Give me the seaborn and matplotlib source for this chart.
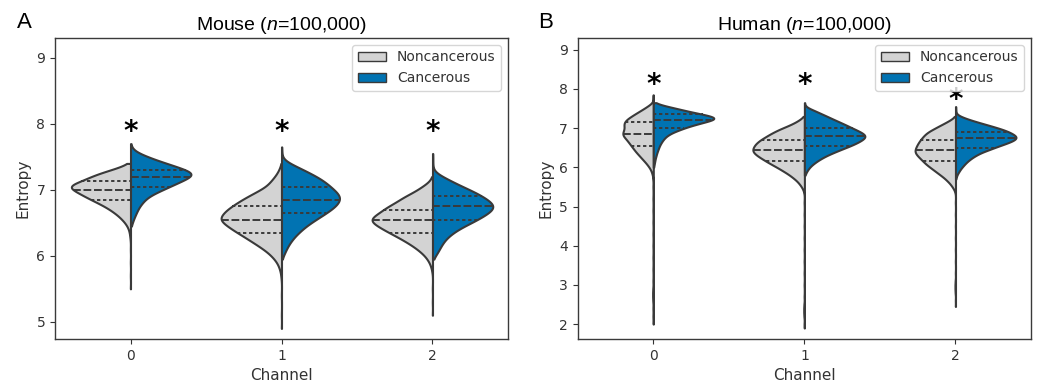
import numpy as np
import pandas as pd
import matplotlib
matplotlib.use("Agg")
import matplotlib.pyplot as plt
from matplotlib.patches import Patch
import seaborn as sns

# ------------------------------------------------------------------ data
channels = ["0", "1", "2"]
groups = ["Noncancerous", "Cancerous"]
panel_names = ["Mouse", "Human"]
panel_letters = ["A", "B"]
sample_size = "100,000"
mouse_yticks = [5, 6, 7, 8, 9]
human_yticks = [2, 3, 4, 5, 6, 7, 8, 9]
mouse_star_y = [7.96, 7.96, 7.96]
human_star_y = [8.25, 8.25, 7.87]

# Entropy levels and relative frequency at each level
# ---- Mouse
mouse_c0_non_lv = [7.40, 7.35, 7.30, 7.25, 7.20, 7.15, 7.10, 7.05, 7.00, 6.95, 6.90, 6.85, 6.80, 6.75,
                   6.70, 6.65, 6.60, 6.55, 6.50, 6.45, 6.40, 6.35, 6.30, 6.25, 6.10, 5.90, 5.70, 5.50]
mouse_c0_non_ct = [3, 25, 55, 85, 108, 125, 150, 175, 155, 140, 124, 106, 88, 70,
                   56, 43, 32, 23, 15, 9, 5, 3, 2, 1, 1, 1, 1, 1]
mouse_c0_can_lv = [7.70, 7.65, 7.60, 7.55, 7.50, 7.45, 7.40, 7.35, 7.30, 7.25, 7.20, 7.15, 7.10, 7.05,
                   7.00, 6.95, 6.90, 6.85, 6.80, 6.75, 6.70, 6.65, 6.60, 6.55, 6.50, 6.45]
mouse_c0_can_ct = [1, 2, 8, 25, 48, 72, 100, 128, 155, 178, 168, 148, 128, 108,
                   88, 68, 50, 40, 32, 25, 20, 16, 12, 8, 5, 2]
mouse_c1_non_lv = [7.40, 7.35, 7.30, 7.25, 7.20, 7.15, 7.10, 7.05, 7.00, 6.95, 6.90, 6.85, 6.80, 6.75,
                   6.70, 6.65, 6.60, 6.55, 6.50, 6.45, 6.40, 6.35, 6.30, 6.25, 6.20, 6.15, 6.10, 6.05,
                   6.00, 5.95, 5.90, 5.85, 5.80, 5.75, 5.70, 5.65, 5.40, 5.10, 4.90]
mouse_c1_non_ct = [1, 4, 8, 13, 20, 28, 36, 45, 62, 80, 98, 115, 130, 145,
                   158, 168, 176, 180, 170, 157, 143, 128, 112, 97, 82, 67, 53, 40,
                   30, 21, 14, 9, 6, 3, 2, 1, 1, 1, 1]
mouse_c1_can_lv = [7.65, 7.60, 7.55, 7.50, 7.45, 7.40, 7.35, 7.30, 7.25, 7.20, 7.15, 7.10, 7.05, 7.00,
                   6.95, 6.90, 6.85, 6.80, 6.75, 6.70, 6.65, 6.60, 6.55, 6.50, 6.45, 6.40, 6.35, 6.30,
                   6.25, 6.20, 6.15, 6.10, 6.05, 6.00, 5.95]
mouse_c1_can_ct = [1, 1, 1, 2, 8, 25, 45, 65, 84, 102, 118, 131, 142, 153,
                   163, 170, 170, 165, 156, 144, 130, 115, 100, 85, 72, 60, 50, 40,
                   32, 25, 19, 14, 10, 5, 2]
mouse_c2_non_lv = [7.20, 7.15, 7.10, 7.05, 7.00, 6.95, 6.90, 6.85, 6.80, 6.75, 6.70, 6.65, 6.60, 6.55,
                   6.50, 6.45, 6.40, 6.35, 6.30, 6.25, 6.20, 6.15, 6.10, 6.05, 6.00, 5.95, 5.90, 5.85,
                   5.80, 5.75, 5.50, 5.30, 5.10]
mouse_c2_non_ct = [1, 5, 14, 28, 40, 56, 74, 88, 100, 119, 130, 143, 156, 168,
                   160, 146, 131, 115, 98, 82, 67, 53, 41, 30, 21, 14, 9, 5,
                   3, 1, 1, 1, 1]
mouse_c2_can_lv = [7.55, 7.50, 7.45, 7.40, 7.35, 7.30, 7.25, 7.20, 7.15, 7.10, 7.05, 7.00, 6.95, 6.90,
                   6.85, 6.80, 6.75, 6.70, 6.65, 6.60, 6.55, 6.50, 6.45, 6.40, 6.35, 6.30, 6.25, 6.20,
                   6.15, 6.10, 6.05, 6.00, 5.95]
mouse_c2_can_ct = [1, 1, 1, 1, 1, 3, 12, 30, 48, 67, 87, 108, 128, 145,
                   160, 172, 179, 174, 162, 147, 130, 112, 92, 75, 60, 48, 38, 31,
                   25, 20, 15, 8, 3]
# ---- Human
human_c0_non_lv = [7.85, 7.80, 7.75, 7.70, 7.65, 7.60, 7.55, 7.50, 7.45, 7.40, 7.35, 7.30, 7.25, 7.20,
                   7.15, 7.10, 7.05, 7.00, 6.95, 6.90, 6.85, 6.80, 6.75, 6.70, 6.65, 6.60, 6.55, 6.50,
                   6.45, 6.40, 6.35, 6.30, 6.25, 6.20, 6.15, 6.10, 6.05, 6.00, 5.95, 5.90, 5.85, 5.80,
                   5.75, 5.70, 5.50, 5.20, 4.90, 4.60, 4.30, 4.00, 3.70, 3.40, 3.10, 2.90, 2.80, 2.70,
                   2.60, 2.40, 2.20, 2.00]
human_c0_non_ct = [1, 1, 1, 1, 3, 12, 22, 32, 43, 54, 65, 75, 86, 93,
                   99, 100, 99, 98, 100, 103, 105, 102, 96, 90, 85, 80, 75, 70,
                   65, 60, 54, 48, 42, 36, 30, 24, 19, 14, 10, 7, 5, 3,
                   2, 1, 1, 1, 1, 1, 1, 1, 1, 1, 1, 2, 3, 3,
                   2, 1, 1, 1]
human_c0_can_lv = [7.65, 7.60, 7.55, 7.50, 7.45, 7.40, 7.35, 7.30, 7.25, 7.20, 7.15, 7.10, 7.05, 7.00,
                   6.95, 6.90, 6.85, 6.80, 6.75, 6.70, 6.65, 6.60, 6.55, 6.50, 6.45, 6.40, 6.35, 6.30,
                   6.25, 6.20, 6.15, 6.10, 6.05, 6.00]
human_c0_can_ct = [3, 18, 42, 66, 88, 112, 140, 165, 180, 162, 140, 120, 100, 85,
                   70, 56, 45, 37, 31, 27, 23, 20, 17, 15, 13, 11, 9, 8,
                   6, 5, 4, 3, 2, 1]
human_c1_non_lv = [7.30, 7.25, 7.20, 7.15, 7.10, 7.05, 7.00, 6.95, 6.90, 6.85, 6.80, 6.75, 6.70, 6.65,
                   6.60, 6.55, 6.50, 6.45, 6.40, 6.35, 6.30, 6.25, 6.20, 6.15, 6.10, 6.05, 6.00, 5.95,
                   5.90, 5.85, 5.80, 5.75, 5.70, 5.65, 5.60, 5.55, 5.50, 5.45, 5.40, 5.35, 5.10, 4.80,
                   4.50, 4.20, 3.90, 3.60, 3.30, 3.00, 2.70, 2.50, 2.40, 2.30, 2.20, 2.00, 1.90]
human_c1_non_ct = [2, 8, 16, 25, 36, 48, 62, 74, 85, 95, 104, 113, 122, 129,
                   135, 139, 142, 144, 143, 138, 131, 123, 114, 105, 96, 86, 76, 67,
                   58, 49, 41, 34, 27, 21, 16, 12, 8, 5, 3, 1, 1, 1,
                   1, 1, 1, 1, 1, 1, 1, 2, 3, 3, 2, 1, 1]
human_c1_can_lv = [7.65, 7.60, 7.55, 7.50, 7.45, 7.40, 7.35, 7.30, 7.25, 7.20, 7.15, 7.10, 7.05, 7.00,
                   6.95, 6.90, 6.85, 6.80, 6.75, 6.70, 6.65, 6.60, 6.55, 6.50, 6.45, 6.40, 6.35, 6.30,
                   6.25, 6.20, 6.15, 6.10, 6.05, 6.00, 5.95, 5.90, 5.85, 5.80]
human_c1_can_ct = [1, 1, 3, 15, 30, 42, 55, 68, 80, 93, 106, 119, 131, 143,
                   156, 168, 178, 183, 180, 172, 162, 150, 137, 122, 107, 93, 79, 66,
                   55, 45, 36, 28, 21, 15, 11, 7, 4, 2]
human_c2_non_lv = [7.30, 7.25, 7.20, 7.15, 7.10, 7.05, 7.00, 6.95, 6.90, 6.85, 6.80, 6.75, 6.70, 6.65,
                   6.60, 6.55, 6.50, 6.45, 6.40, 6.35, 6.30, 6.25, 6.20, 6.15, 6.10, 6.05, 6.00, 5.95,
                   5.90, 5.85, 5.80, 5.75, 5.70, 5.65, 5.60, 5.55, 5.50, 5.45, 5.40, 5.35, 5.10, 4.80,
                   4.50, 4.20, 3.90, 3.60, 3.30, 3.10, 3.00, 2.90, 2.80, 2.60, 2.45]
human_c2_non_ct = [2, 8, 18, 29, 40, 52, 63, 74, 85, 92, 98, 103, 108, 112,
                   116, 119, 122, 124, 125, 122, 117, 111, 105, 99, 93, 86, 78, 70,
                   62, 54, 46, 38, 31, 25, 19, 14, 10, 6, 3, 1, 1, 1,
                   1, 1, 1, 1, 1, 2, 3, 3, 2, 1, 1]
human_c2_can_lv = [7.55, 7.50, 7.45, 7.40, 7.35, 7.30, 7.25, 7.20, 7.15, 7.10, 7.05, 7.00, 6.95, 6.90,
                   6.85, 6.80, 6.75, 6.70, 6.65, 6.60, 6.55, 6.50, 6.45, 6.40, 6.35, 6.30, 6.25, 6.20,
                   6.15, 6.10, 6.05, 6.00, 5.95, 5.90, 5.85, 5.80, 5.75, 5.70]
human_c2_can_ct = [1, 1, 1, 1, 3, 15, 30, 48, 67, 88, 108, 128, 146, 160,
                   171, 180, 183, 176, 163, 147, 130, 114, 100, 82, 70, 59, 50, 42,
                   35, 29, 24, 19, 14, 11, 7, 4, 2, 1]

mouse_specs = [
    ("0", "Noncancerous", mouse_c0_non_lv, mouse_c0_non_ct),
    ("0", "Cancerous", mouse_c0_can_lv, mouse_c0_can_ct),
    ("1", "Noncancerous", mouse_c1_non_lv, mouse_c1_non_ct),
    ("1", "Cancerous", mouse_c1_can_lv, mouse_c1_can_ct),
    ("2", "Noncancerous", mouse_c2_non_lv, mouse_c2_non_ct),
    ("2", "Cancerous", mouse_c2_can_lv, mouse_c2_can_ct),
]
human_specs = [
    ("0", "Noncancerous", human_c0_non_lv, human_c0_non_ct),
    ("0", "Cancerous", human_c0_can_lv, human_c0_can_ct),
    ("1", "Noncancerous", human_c1_non_lv, human_c1_non_ct),
    ("1", "Cancerous", human_c1_can_lv, human_c1_can_ct),
    ("2", "Noncancerous", human_c2_non_lv, human_c2_non_ct),
    ("2", "Cancerous", human_c2_can_lv, human_c2_can_ct),
]


def build_frame(specs):
    parts = []
    for ch, grp, lv, ct in specs:
        vals = np.repeat(np.asarray(lv, float), np.asarray(ct, int))
        parts.append(pd.DataFrame({"Channel": ch, "group": grp, "Entropy": vals}))
    return pd.concat(parts, ignore_index=True)


mouse_df = build_frame(mouse_specs)
human_df = build_frame(human_specs)

# ------------------------------------------------------------------ style
plt.rcParams["font.family"] = ["DejaVu Sans"]
plt.rcParams["mathtext.fontset"] = "custom"
plt.rcParams["mathtext.rm"] = "Liberation Sans"
plt.rcParams["mathtext.it"] = "Liberation Sans:italic"
TEXT = "#333333"
EDGE = "#3a3a3a"
palette = {"Noncancerous": "#d3d3d3", "Cancerous": "#0173b2"}
BW = 0.05  # kernel bandwidth in entropy units


def bw_fixed(kde):
    return BW / np.std(kde.dataset)


fig = plt.figure(figsize=(10.38, 3.85), dpi=100)
axA = fig.add_axes([0.0530, 0.1195, 0.4364, 0.7818])
axB = fig.add_axes([0.5566, 0.1195, 0.4367, 0.7818])

panels = [
    (axA, mouse_df, mouse_yticks, mouse_star_y, (4.74, 9.30)),
    (axB, human_df, human_yticks, human_star_y, (1.62, 9.30)),
]

for (ax, df, yticks, star_y, ylim), name, letter in zip(panels, panel_names, panel_letters):
    for ch in channels:
        sub = df[df["Channel"] == ch]
        sns.violinplot(data=sub, x="Channel", y="Entropy", hue="group",
                       order=channels, hue_order=groups, palette=palette,
                       split=True, inner="quart", cut=0, gridsize=800,
                       bw_method=bw_fixed, density_norm="area", common_norm=True,
                       saturation=1, linewidth=1.5, linecolor=EDGE,
                       legend=False, ax=ax)
    # quartile lines: short dashes, median: long dashes
    for i, ln in enumerate(ax.lines):
        if i % 3 == 1:
            ln.set_dashes((4.0, 1.4))
        else:
            ln.set_dashes((1.7, 1.4))
        ln.set_color(EDGE)
        ln.set_linewidth(1.4)

    for ch, sy in zip(channels, star_y):
        ax.annotate("*", xy=(channels.index(ch), sy), xytext=(0, -4),
                    textcoords="offset points", ha="center", va="center",
                    fontsize=20, fontweight="bold", color="black")

    ax.set_ylim(*ylim)
    ax.set_xlim(-0.5, 2.5)
    ax.set_yticks(yticks)
    ax.set_xlabel("Channel", fontsize=11, color=TEXT)
    ax.set_ylabel("Entropy", fontsize=11, color=TEXT)
    ax.tick_params(labelsize=10, colors=TEXT)
    for sp in ax.spines.values():
        sp.set_color(EDGE)
        sp.set_linewidth(1.0)
    ax.set_title(f"{name} ($n$={sample_size})", fontsize=14,
                 fontfamily="Liberation Sans", color="black", pad=6)
    handles = [Patch(facecolor=palette[g], edgecolor=EDGE, linewidth=1.0, label=g) for g in groups]
    leg = ax.legend(handles=handles, loc="upper right", fontsize=10)
    for t in leg.get_texts():
        t.set_color(TEXT)

fig.text(17 / 1038, 1 - 12 / 385, "A", fontsize=16, fontfamily="Liberation Sans",
         ha="left", va="top")
fig.text(538 / 1038, 1 - 12 / 385, "B", fontsize=16, fontfamily="Liberation Sans",
         ha="left", va="top")

fig.savefig("out.png", dpi=100)
